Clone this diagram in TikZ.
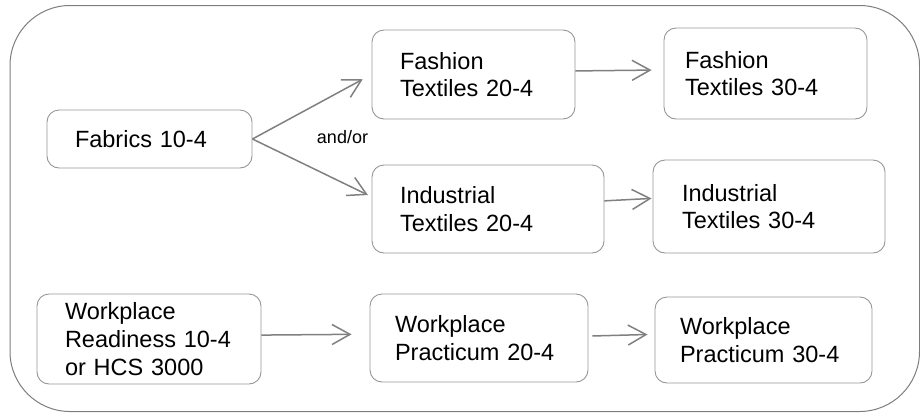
\documentclass[tikz,border=0pt]{standalone}
\usepackage{fontspec}
\setmainfont{Liberation Sans}
\usepackage{tikz}
\usetikzlibrary{arrows.meta}

\definecolor{framegray}{RGB}{125,125,125}
\definecolor{boxgray}{RGB}{150,150,150}
\definecolor{arrowgray}{RGB}{128,128,128}

\tikzset{
  course/.style={draw=boxgray, line width=0.9pt, rounded corners=12pt, align=left,
    font=\fontsize{23.5}{27.7}\selectfont, inner ysep=0pt},
  link/.style={draw=arrowgray, line width=1.5pt, -{Straight Barb[length=18pt,width=20pt]}},
}

\begin{document}
\begin{tikzpicture}[x=1pt, y=-1pt]
    \useasboundingbox (0,0) rectangle (920,413);
    % outer frame
    \draw[framegray, line width=1pt, rounded corners=60pt] (10,5.5) rectangle (919.5,411.5);
    % first year
    \node[course, minimum width=205pt, minimum height=58pt, inner xsep=28pt, text width=149pt] (fab) at (149.5,139) {Fabrics 10-4};
    \node[course, minimum width=224pt, minimum height=90pt, inner xsep=28pt, text width=168pt] (ready) at (149,339) {Workplace\\Readiness 10-4\\or HCS 3000};
    % second year
    \node[course, minimum width=203pt, minimum height=89pt, inner xsep=28pt, text width=147pt] (fash2) at (473.5,74.5) {Fashion\\Textiles 20-4};
    \node[course, minimum width=232pt, minimum height=88pt, inner xsep=28pt, text width=176pt] (ind2) at (488,209) {Industrial\\Textiles 20-4};
    \node[course, minimum width=218pt, minimum height=88pt, inner xsep=25pt, text width=168pt] (prac2) at (479,338) {Workplace\\Practicum 20-4};
    % third year
    \node[course, minimum width=203pt, minimum height=91pt, inner xsep=21pt, text width=161pt] (fash3) at (765.5,73.5) {Fashion\\Textiles 30-4};
    \node[course, minimum width=232pt, minimum height=93pt, inner xsep=29pt, text width=174pt] (ind3) at (769,206.5) {Industrial\\Textiles 30-4};
    \node[course, minimum width=217pt, minimum height=86pt, inner xsep=25pt, text width=167pt] (prac3) at (763.5,340) {Workplace\\Practicum 30-4};
    % label
    \node[font=\fontsize{18}{21}\selectfont, anchor=base] (andor) at (342.5,143.5) {and/or};
    % arrows
    \draw[link, shorten >=10pt] (fab.east) -- (fash2.west);
    \draw[link, shorten >=4pt] (fab.east) -- (ind2.174);
    \draw[link, shorten >=12pt] (fash2.2.5) -- (fash3.178);
    \draw[link, shorten >=1pt] (ind2.4) -- (ind3.176);
    \draw[link, shorten >=18pt] (ready.2.6) -- (prac2.178);
    \draw[link, shorten <=4pt, shorten >=7pt] (prac2.1.6) -- (prac3.177.4);
\end{tikzpicture}
\end{document}
